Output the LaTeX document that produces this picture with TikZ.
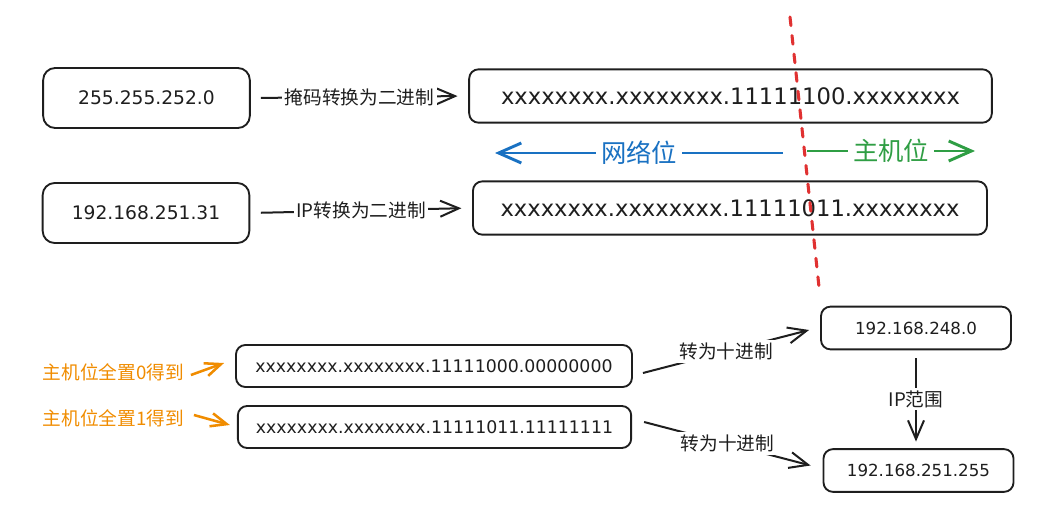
\documentclass[tikz,border=0pt]{standalone}
\usepackage{fontspec}
\setmainfont{DejaVu Sans}
\newfontfamily\cjk{Noto Sans CJK SC}
\usetikzlibrary{arrows.meta}
\definecolor{Ink}{RGB}{30,30,30}
\definecolor{NetBlue}{RGB}{25,113,194}
\definecolor{HostGreen}{RGB}{47,158,68}
\definecolor{CutRed}{RGB}{224,49,49}
\definecolor{HintOrange}{RGB}{240,140,0}

\begin{document}
\begin{tikzpicture}[
  x=0.75pt, y=-0.75pt,
  box/.style={
    draw=Ink,
    rounded corners=7pt,
    line width=1.4pt,
    inner sep=0pt,
    align=center,
    text=Ink
  },
  ipbox/.style={box, minimum width=155pt, minimum height=45pt,
    rounded corners=9pt, font=\fontsize{14}{16}\selectfont},
  binbox/.style={box, minimum height=40pt, font=\fontsize{17}{20}\selectfont},
  lowbox/.style={box, minimum height=31.5pt, font=\fontsize{13}{15}\selectfont},
  decbox/.style={box, minimum width=142.5pt, minimum height=32pt,
    font=\fontsize{12.5}{15}\selectfont},
  arr/.style={-{Straight Barb[length=14pt,width=12pt]}, line width=1.5pt, draw=Ink},
  bigarr/.style={-{Straight Barb[length=17pt,width=15pt]}, line width=2.2pt},
  hint/.style={-{Straight Barb[length=12pt,width=10pt]}, line width=1.9pt, draw=HintOrange},
  lab/.style={fill=white, inner sep=2pt, text=Ink, font=\cjk\fontsize{14}{16}\selectfont},
  biglab/.style={fill=white, inner sep=4pt, font=\cjk\fontsize{19}{22}\selectfont},
  hintlab/.style={inner sep=2pt, anchor=west, text=HintOrange,
    font=\cjk\fontsize{14}{16}\selectfont},
  cut/.style={draw=CutRed, line width=2.3pt, line cap=round, dash pattern=on 6.5pt off 7.5pt}
]
\useasboundingbox (0,0) rectangle (1044,531);

% decimal input
\node[ipbox] (mask) at (146.5,98) {255.255.252.0};
\node[ipbox] (ip) at (146,213) {192.168.251.31};

% binary forms
\node[binbox, minimum width=392pt] (maskbin) at (730.5,96) {xxxxxxxx.xxxxxxxx.11111100.xxxxxxxx};
\node[binbox, minimum width=385.5pt] (ipbin) at (730,208) {xxxxxxxx.xxxxxxxx.11111011.xxxxxxxx};

% network / host part
\coordinate (netR) at (783,153);
\coordinate (netL) at (495,153);
\coordinate (hostL) at (807,151);
\coordinate (hostR) at (975,151);

% host bits all 0 / all 1
\node[lowbox, minimum width=297pt] (zeros) at (434,366) {xxxxxxxx.xxxxxxxx.11111000.00000000};
\node[lowbox, minimum width=295pt] (ones) at (434.5,427) {xxxxxxxx.xxxxxxxx.11111011.11111111};
\node[hintlab] (zerolab) at (40,372) {主机位全置0得到};
\node[hintlab] (onelab) at (40,418) {主机位全置1得到};

% range ends
\node[decbox] (first) at (916,328) {192.168.248.0};
\node[decbox] (last) at (918.5,470.5) {192.168.251.255};

\draw[arr, shorten <=7.5pt, shorten >=8pt] (mask.east) --
  node[lab]{掩码转换为二进制}
  (maskbin.west);
\draw[arr, shorten <=8pt, shorten >=8pt] (ip.east) --
  node[lab]{IP转换为二进制}
  (ipbin.west);

\draw[bigarr, draw=NetBlue] (netR) --
  node[biglab, text=NetBlue]{网络位}
  (netL);
\draw[bigarr, draw=HostGreen] (hostL) --
  node[biglab, text=HostGreen]{主机位}
  (hostR);

\draw[hint] ([shift={(4,3)}]zerolab.east) -- ([shift={(-11,-3)}]zeros.west);
\draw[hint] ([shift={(7,-3)}]onelab.east) -- ([shift={(-7,-2)}]ones.west);

\draw[arr] ([shift={(10,7)}]zeros.east) --
  node[lab]{转为十进制}
  ([shift={(-11,2)}]first.west);
\draw[arr] ([shift={(12,-5)}]ones.east) --
  node[lab]{转为十进制}
  ([shift={(-12,-5)}]last.west);
\draw[arr, shorten <=6pt, shorten >=5pt] (first.south) --
  node[lab]{IP范围}
  (first.south |- last.north);

% dividing line
\coordinate (cuttop) at (790,17);
\coordinate (cutbot) at (819,287);
\draw[cut] (cuttop) -- (cutbot);
\end{tikzpicture}
\end{document}
